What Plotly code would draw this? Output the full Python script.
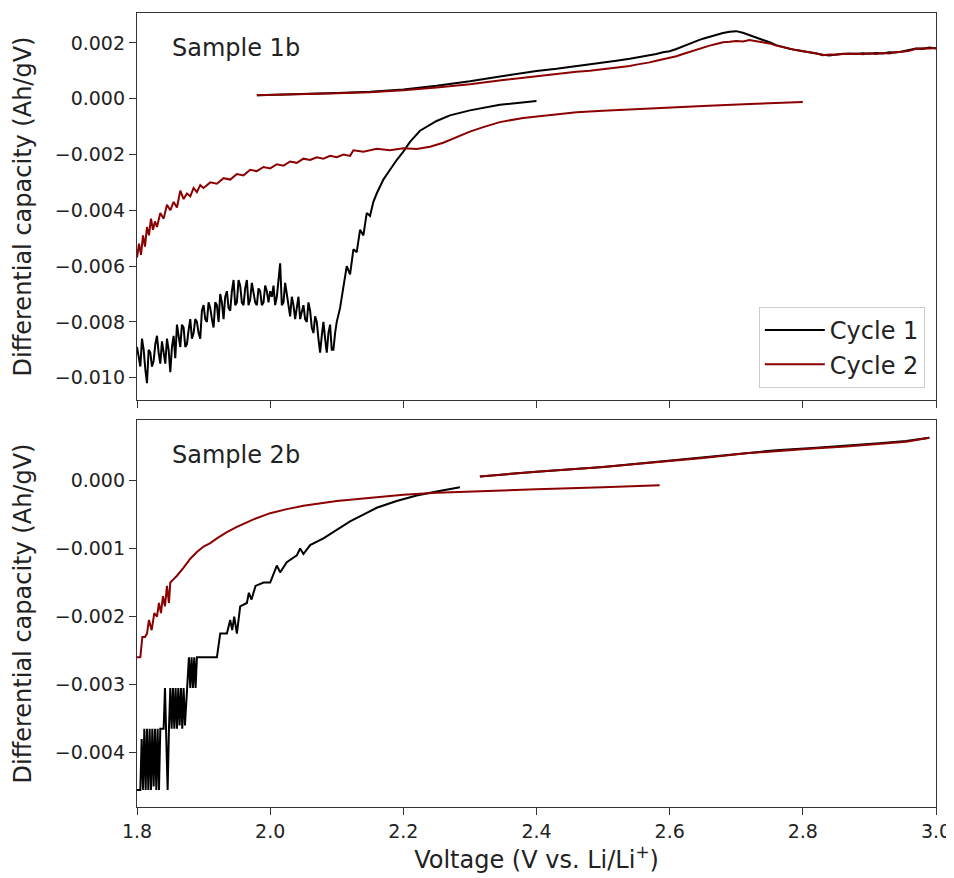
import numpy as np
import plotly.graph_objects as go

# ---------------- data (y values in units of 1e-3 Ah/gV) ----------------
# Sample 1b, cycle 1, discharge branch
s1_c1_dis_x = [1.800, 1.805, 1.810, 1.815, 1.820, 1.825, 1.830, 1.835, 1.840, 1.845,
               1.850, 1.855, 1.860, 1.865, 1.870, 1.875, 1.880, 1.885, 1.890, 1.895,
               1.900, 1.905, 1.910, 1.915, 1.920, 1.925, 1.930, 1.935, 1.940, 1.945,
               1.950, 1.955, 1.960, 1.965, 1.970, 1.975, 1.980, 1.985, 1.990, 1.995,
               2.000, 2.005, 2.010, 2.015, 2.020, 2.025, 2.030, 2.035, 2.040, 2.045,
               2.050, 2.055, 2.060, 2.065, 2.070, 2.075, 2.080, 2.085, 2.090, 2.095,
               2.100, 2.105, 2.110, 2.115, 2.120, 2.125, 2.130, 2.135, 2.140, 2.145,
               2.150, 2.155, 2.160, 2.170, 2.180, 2.190, 2.200, 2.210, 2.225, 2.250,
               2.270, 2.300, 2.345, 2.370, 2.400]
s1_c1_dis_y = [-8.9, -9.6, -9.0, -10.2, -9.1, -9.4, -8.5, -9.5, -9.1, -8.6,
               -9.8, -8.5, -8.1, -8.9, -8.2, -8.8, -7.9, -8.4, -8.0, -8.6,
               -7.4, -8.0, -7.5, -8.2, -7.4, -7.0, -7.9, -6.9, -7.6, -6.5,
               -7.3, -6.7, -7.4, -6.5, -7.2, -6.9, -7.4, -6.9, -7.3, -6.9,
               -6.9, -6.7, -7.1, -5.9, -7.3, -7.0, -7.8, -7.4, -7.4, -7.9,
               -7.4, -8.0, -7.6, -8.4, -8.0, -9.1, -8.0, -9.1, -8.1, -9.0,
               -8.0, -7.5, -6.8, -6.0, -6.3, -5.4, -5.5, -4.7, -4.9, -4.1,
               -4.2, -3.7, -3.4, -2.9, -2.55, -2.2, -1.9, -1.55, -1.15, -0.80,
               -0.60, -0.42, -0.22, -0.15, -0.08]
# extra in-between readings of the noisy part of the same branch
s1_c1_dis_x_mid = [1.8025, 1.8075, 1.8125, 1.8175, 1.8225, 1.8275, 1.8325, 1.8375, 1.8425, 1.8475,
                   1.8525, 1.8575, 1.8625, 1.8675, 1.8725, 1.8775, 1.8825, 1.8875, 1.8925, 1.8975,
                   1.9025, 1.9075, 1.9125, 1.9175, 1.9225, 1.9275, 1.9325, 1.9375, 1.9425, 1.9475,
                   1.9525, 1.9575, 1.9625, 1.9675, 1.9725, 1.9775, 1.9825, 1.9875, 1.9925, 1.9975,
                   2.0025, 2.0075, 2.0125, 2.0175, 2.0225, 2.0275, 2.0325, 2.0375, 2.0425, 2.0475,
                   2.0525, 2.0575, 2.0625, 2.0675, 2.0725, 2.0775, 2.0825, 2.0875, 2.0925, 2.0975]
s1_c1_dis_y_mid = [-9.3, -8.6, -9.7, -9.0, -9.6, -8.8, -9.1, -8.7, -9.5, -9.0,
                   -8.9, -9.3, -8.5, -8.1, -8.9, -8.3, -8.6, -7.9, -8.4, -7.6,
                   -7.9, -7.3, -7.9, -7.3, -8.0, -7.3, -7.1, -7.5, -6.9, -7.4,
                   -6.5, -7.3, -6.8, -7.4, -6.6, -7.3, -6.8, -7.4, -6.7, -7.3,
                   -7.1, -7.4, -6.6, -7.4, -6.6, -7.4, -7.1, -7.9, -7.1, -7.6,
                   -7.9, -7.3, -8.2, -7.8, -8.6, -8.5, -8.6, -8.4, -9.0, -8.4]

# Sample 1b, cycle 2, discharge branch
s1_c2_dis_x = [1.800, 1.803, 1.806, 1.809, 1.812, 1.815, 1.818, 1.821, 1.824, 1.827,
               1.830, 1.835, 1.840, 1.845, 1.850, 1.855, 1.860, 1.865, 1.870, 1.875,
               1.880, 1.885, 1.890, 1.895, 1.900, 1.910, 1.920, 1.930, 1.940, 1.950,
               1.960, 1.970, 1.980, 1.990, 2.000, 2.010, 2.020, 2.030, 2.040, 2.050,
               2.060, 2.070, 2.080, 2.090, 2.100, 2.110, 2.120, 2.125, 2.140, 2.160,
               2.180, 2.200, 2.220, 2.240, 2.260, 2.280, 2.300, 2.320, 2.345, 2.380,
               2.420, 2.460, 2.500, 2.570, 2.650, 2.720, 2.800]
s1_c2_dis_y = [-5.7, -5.2, -5.6, -4.9, -5.3, -4.6, -4.9, -4.3, -4.7, -4.4,
               -4.6, -4.1, -4.3, -3.8, -4.0, -3.7, -3.9, -3.3, -3.6, -3.4,
               -3.5, -3.2, -3.35, -3.1, -3.2, -3.0, -3.05, -2.85, -2.9, -2.7,
               -2.75, -2.55, -2.6, -2.45, -2.5, -2.35, -2.4, -2.25, -2.3, -2.15,
               -2.2, -2.1, -2.15, -2.05, -2.1, -2.0, -2.05, -1.85, -1.9, -1.8,
               -1.85, -1.78, -1.8, -1.72, -1.58, -1.38, -1.18, -1.02, -0.84, -0.69,
               -0.58, -0.49, -0.43, -0.34, -0.26, -0.19, -0.12]

# Sample 1b, charge branches (both cycles share voltages)
s1_chg_x = [1.98, 2.00, 2.05, 2.10, 2.15, 2.20, 2.25, 2.30, 2.35, 2.40,
            2.43, 2.46, 2.48, 2.50, 2.52, 2.54,
            2.55, 2.56, 2.57, 2.58, 2.59, 2.60, 2.61, 2.62, 2.63, 2.64,
            2.65, 2.66, 2.67, 2.68, 2.69, 2.70, 2.71, 2.72, 2.73, 2.74,
            2.75, 2.76, 2.77, 2.78, 2.79, 2.80, 2.81, 2.82, 2.83, 2.84,
            2.85, 2.86, 2.87, 2.88, 2.89, 2.90, 2.91, 2.92, 2.93, 2.94,
            2.95, 2.96, 2.97, 2.98, 2.99, 3.00]
s1_c1_chg_y = [0.12, 0.13, 0.16, 0.20, 0.25, 0.33, 0.46, 0.62, 0.81, 0.99,
               1.07, 1.16, 1.22, 1.30, 1.36, 1.43,
               1.47, 1.50, 1.56, 1.60, 1.66, 1.70, 1.78, 1.88, 1.97, 2.06,
               2.15, 2.22, 2.30, 2.35, 2.40, 2.42, 2.36, 2.28, 2.20, 2.10,
               2.02, 1.92, 1.85, 1.79, 1.74, 1.70, 1.68, 1.62, 1.57, 1.55,
               1.58, 1.60, 1.62, 1.60, 1.63, 1.61, 1.64, 1.62, 1.66, 1.65,
               1.70, 1.74, 1.80, 1.78, 1.83, 1.80]
s1_c2_chg_y = [0.12, 0.13, 0.15, 0.19, 0.23, 0.30, 0.40, 0.52, 0.67, 0.81,
               0.88, 0.96, 1.00, 1.05, 1.10, 1.17,
               1.22, 1.25, 1.30, 1.36, 1.41, 1.46, 1.52, 1.60, 1.68, 1.76,
               1.83, 1.90, 1.96, 2.02, 2.04, 2.07, 2.05, 2.10, 2.06, 2.03,
               1.98, 1.90, 1.84, 1.78, 1.74, 1.70, 1.67, 1.63, 1.56, 1.58,
               1.57, 1.61, 1.60, 1.62, 1.59, 1.63, 1.60, 1.64, 1.62, 1.67,
               1.68, 1.72, 1.79, 1.81, 1.80, 1.82]

# Sample 2b, cycle 1, discharge branch
s2_c1_dis_x = [1.800, 1.805, 1.807, 1.809, 1.811, 1.813, 1.815, 1.817, 1.819, 1.821,
               1.823, 1.825, 1.827, 1.829, 1.831, 1.833, 1.835, 1.840, 1.842, 1.844,
               1.846, 1.848, 1.850, 1.852, 1.854, 1.856, 1.858, 1.860, 1.862, 1.864,
               1.866, 1.868, 1.870, 1.872, 1.875, 1.878, 1.880, 1.882, 1.884, 1.886,
               1.888, 1.890, 1.900, 1.910, 1.920, 1.925, 1.935, 1.940, 1.943, 1.946,
               1.950, 1.955, 1.965, 1.968, 1.972, 1.978, 1.990, 2.000, 2.010, 2.015,
               2.025, 2.040, 2.045, 2.050, 2.060, 2.080, 2.100, 2.120, 2.140, 2.160,
               2.190, 2.220, 2.250, 2.285]
s2_c1_dis_y = [-4.55, -4.55, -3.8, -4.55, -3.65, -4.55, -3.65, -4.55, -3.65, -4.55,
               -3.65, -4.5, -3.65, -4.55, -3.65, -4.55, -3.65, -3.65, -3.05, -3.65,
               -4.55, -3.65, -3.05, -3.65, -3.05, -3.65, -3.05, -3.65, -3.05, -3.6,
               -3.05, -3.65, -3.05, -3.6, -3.05, -2.6, -3.05, -2.6, -3.05, -2.6,
               -3.05, -2.6, -2.6, -2.6, -2.6, -2.25, -2.25, -2.05, -2.2, -2.0,
               -2.25, -1.85, -1.8, -1.65, -1.75, -1.55, -1.5, -1.5, -1.25, -1.35,
               -1.2, -1.1, -1.0, -1.08, -0.95, -0.85, -0.72, -0.60, -0.50, -0.40,
               -0.30, -0.22, -0.16, -0.10]

# Sample 2b, cycle 2, discharge branch
s2_c2_dis_x = [1.800, 1.805, 1.808, 1.812, 1.815, 1.818, 1.822, 1.826, 1.830, 1.833,
               1.836, 1.839, 1.842, 1.845, 1.848, 1.850, 1.855, 1.860, 1.870, 1.880,
               1.890, 1.900, 1.910, 1.920, 1.935, 1.950, 1.975, 2.000, 2.025, 2.050,
               2.100, 2.150, 2.200, 2.250, 2.300, 2.400, 2.500, 2.585]
s2_c2_dis_y = [-2.6, -2.6, -2.3, -2.3, -2.25, -2.05, -2.2, -1.95, -2.0, -1.8,
               -1.95, -1.7, -1.85, -1.55, -1.8, -1.5, -1.45, -1.40, -1.28, -1.15,
               -1.05, -0.97, -0.92, -0.85, -0.76, -0.68, -0.57, -0.48, -0.42, -0.37,
               -0.30, -0.25, -0.21, -0.18, -0.16, -0.13, -0.10, -0.07]

# Sample 2b, charge branches
s2_chg_x = [2.315, 2.40, 2.50, 2.585, 2.65, 2.715, 2.765, 2.815, 2.865, 2.915, 2.955, 2.99]
s2_c1_chg_y = [0.06, 0.13, 0.20, 0.28, 0.34, 0.41, 0.45, 0.48, 0.51, 0.55, 0.58, 0.63]
s2_c2_chg_y = [0.06, 0.13, 0.20, 0.27, 0.33, 0.40, 0.44, 0.47, 0.50, 0.54, 0.57, 0.63]

cycle_names = ["Cycle 1", "Cycle 2"]
sample_labels = ["Sample 1b", "Sample 2b"]
x_ticks = [1.8, 2.0, 2.2, 2.4, 2.6, 2.8, 3.0]
y1_ticks = [-0.010, -0.008, -0.006, -0.004, -0.002, 0.000, 0.002]
y2_ticks = [-0.004, -0.003, -0.002, -0.001, 0.000]

SCALE = 1e-3
BLACK = "#000000"
RED = "#8B0000"
FONT = "DejaVu Sans"
TXT = "#222222"

# merge the two readings of the noisy sample-1b cycle-1 branch, ordered by voltage
_pairs = sorted(zip(s1_c1_dis_x + s1_c1_dis_x_mid, s1_c1_dis_y + s1_c1_dis_y_mid))
s1_c1_all_x = [p[0] for p in _pairs]
s1_c1_all_y = [p[1] for p in _pairs]

fig = go.Figure()


def add(x, y, color, name, xa, ya, show):
    fig.add_trace(go.Scatter(
        x=x, y=np.array(y) * SCALE, mode="lines", name=name,
        legendgroup=name, showlegend=show,
        line=dict(color=color, width=2),
        xaxis=xa, yaxis=ya, hoverinfo="skip"))


# cycle 1 (black) first, then cycle 2 (red) on top
add(s1_c1_all_x, s1_c1_all_y, BLACK, cycle_names[0], "x", "y", True)
add(s1_chg_x, s1_c1_chg_y, BLACK, cycle_names[0], "x", "y", False)
add(s2_c1_dis_x, s2_c1_dis_y, BLACK, cycle_names[0], "x2", "y2", False)
add(s2_chg_x, s2_c1_chg_y, BLACK, cycle_names[0], "x2", "y2", False)
add(s1_c2_dis_x, s1_c2_dis_y, RED, cycle_names[1], "x", "y", True)
add(s1_chg_x, s1_c2_chg_y, RED, cycle_names[1], "x", "y", False)
add(s2_c2_dis_x, s2_c2_dis_y, RED, cycle_names[1], "x2", "y2", False)
add(s2_chg_x, s2_c2_chg_y, RED, cycle_names[1], "x2", "y2", False)

axis_common = dict(
    showline=True, linecolor="#333333", linewidth=1.3, mirror=True,
    ticks="outside", ticklen=7, tickwidth=1.3, tickcolor="#333333",
    showgrid=False, zeroline=False, automargin=False,
    tickfont=dict(family=FONT, size=19, color=TXT),
)

ytitle = dict(text="Differential capacity (Ah/gV)",
              font=dict(family=FONT, size=24, color=TXT), standoff=16)

# the page body adds an 8px offset, so the figure is 8px smaller and margins shifted
fig.update_layout(
    width=946, height=870,
    margin=dict(l=129, r=18, t=5, b=71),
    paper_bgcolor="white", plot_bgcolor="white",
    font=dict(family=FONT, color=TXT),
    xaxis=dict(domain=[0, 1], anchor="y", range=[1.8, 3.0], tickvals=x_ticks,
               showticklabels=False, matches="x2", **axis_common),
    yaxis=dict(domain=[0.5126, 1], anchor="x", range=[-0.0108, 0.00307],
               tickvals=y1_ticks, tickformat=".3f", title=ytitle, **axis_common),
    xaxis2=dict(domain=[0, 1], anchor="y2", range=[1.8, 3.0], tickvals=x_ticks,
                tickformat=".1f",
                title=dict(text="Voltage (V vs. Li/Li<sup>+</sup>)",
                           font=dict(family=FONT, size=24, color=TXT), standoff=4),
                **axis_common),
    yaxis2=dict(domain=[0, 0.4874], anchor="x2", range=[-0.0048, 0.00089],
                tickvals=y2_ticks, tickformat=".3f", title=ytitle, **axis_common),
    legend=dict(x=0.986, xanchor="right", y=0.5277, yanchor="bottom",
                bgcolor="rgba(255,255,255,0.9)", bordercolor="#cccccc", borderwidth=1,
                font=dict(family=FONT, size=24, color=TXT),
                itemwidth=60, tracegroupgap=0),
    showlegend=True,
)

fig.add_annotation(text=sample_labels[0], xref="x domain", yref="y domain",
                   x=0.041, y=0.91, xanchor="left", yanchor="middle", showarrow=False,
                   font=dict(family=FONT, size=24, color=TXT))
fig.add_annotation(text=sample_labels[1], xref="x2 domain", yref="y2 domain",
                   x=0.041, y=0.91, xanchor="left", yanchor="middle", showarrow=False,
                   font=dict(family=FONT, size=24, color=TXT))

fig.write_html("out.html")
